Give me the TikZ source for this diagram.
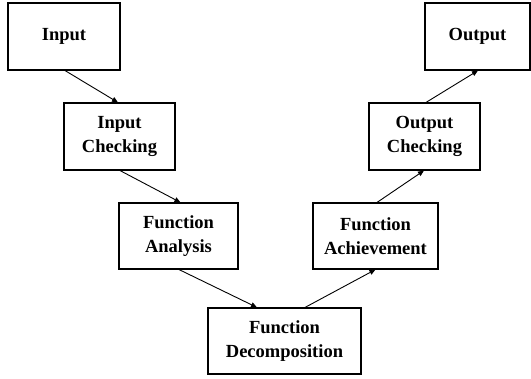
\documentclass[tikz,border=0pt]{standalone}
\usepackage{fontspec}
\setmainfont{Liberation Serif}
\usetikzlibrary{arrows.meta,calc}
\begin{document}
\begin{tikzpicture}[x=1pt,y=-1pt,
  stepbox/.style={draw=black,line width=1.1pt,fill=white,inner sep=0pt,align=center,
    font=\fontsize{18.5}{24}\selectfont\bfseries},
  arr/.style={draw=black,line width=0.9pt,-{Triangle[length=6pt,width=5pt]}}]
\useasboundingbox (0,0) rectangle (531,379);
\node[stepbox,minimum width=112pt,minimum height=67pt] (in) at (64,36.5) {Input};
\node[stepbox,minimum width=111pt,minimum height=67pt] (ic) at (119.5,136.5) {Input\\Checking};
\node[stepbox,minimum width=119pt,minimum height=66pt] (fa) at (178.5,236) {Function\\Analysis};
\node[stepbox,minimum width=153pt,minimum height=66pt] (fd) at (284.5,341) {Function\\Decomposition};
\node[stepbox,minimum width=125pt,minimum height=66pt] (fach) at (375.5,236) {Function\\Achievement};
\node[stepbox,minimum width=111pt,minimum height=67pt] (oc) at (424.5,136.5) {Output\\Checking};
\node[stepbox,minimum width=105pt,minimum height=67pt] (out) at (477.5,36.5) {Output};
\draw[arr] ([xshift=1pt]in.south) -- ([xshift=-1.5pt]ic.north);
\draw[arr] ([xshift=0.5pt]ic.south) -- ([xshift=2pt]fa.north);
\draw[arr] ([xshift=0.5pt]fa.south) -- ([xshift=-27.5pt]fd.north);
\draw[arr] ([xshift=20.5pt]fd.north) -- ([xshift=0pt]fach.south);
\draw[arr] ([xshift=1.5pt]fach.north) -- ([xshift=-0.5pt]oc.south);
\draw[arr] ([xshift=1.5pt]oc.north) -- ([xshift=0.5pt]out.south);
\end{tikzpicture}
\end{document}
